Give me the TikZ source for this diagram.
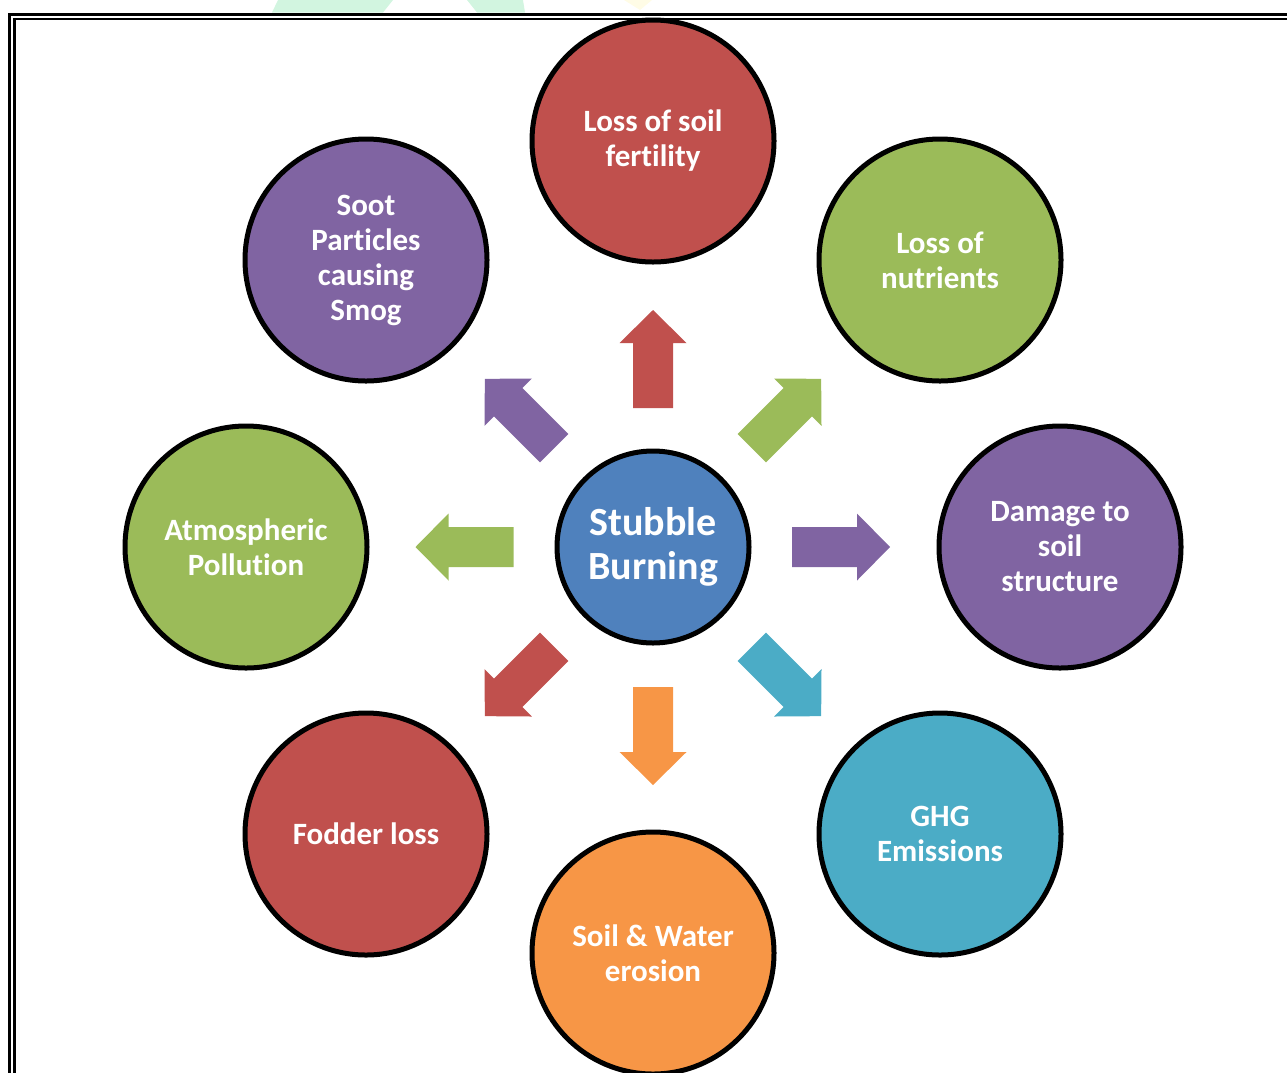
\documentclass[tikz,border=0pt]{standalone}
\usepackage{fontspec}
\setmainfont{Carlito}[Ligatures=NoCommon]
\definecolor{cred}{HTML}{C0504D}
\definecolor{cgreen}{HTML}{9BBB59}
\definecolor{cpurple}{HTML}{8064A2}
\definecolor{cteal}{HTML}{4BACC6}
\definecolor{corange}{HTML}{F79646}
\definecolor{cblue}{HTML}{4F81BD}
\definecolor{wmgreen}{HTML}{D2F5E0}
\definecolor{wmyellow}{HTML}{FFFCE6}
\newcommand\blockarrow[4]{%
  \fill[#4, shift={(#1,#2)}, rotate=#3] (-49,-20) -- (16,-20) -- (16,-33.5) -- (49,0) -- (16,33.5) -- (16,20) -- (-49,20) -- cycle;}
\tikzset{
  bubble/.style={circle, draw=black, line width=5pt, minimum size=242pt, inner sep=0pt,
    text=white, align=center, font=\bfseries\fontsize{31}{35}\selectfont},
  hub/.style={circle, draw=black, line width=5pt, minimum size=192pt, inner sep=0pt,
    text=white, align=center, font=\bfseries\fontsize{40}{44}\selectfont},
  frameline/.style={draw=black, line width=2.4pt}
}
\begin{document}
\begin{tikzpicture}[x=1pt,y=-1pt]
\useasboundingbox (0,0) rectangle (1287,1072);
% faint watermark fragments
\fill[wmgreen] (278,0) -- (393,0) -- (383,12.5) -- (272,12.5) -- cycle;
\fill[wmgreen] (467,0) -- (523,0) -- (525,12.5) -- (477,12.5) -- cycle;
\fill[wmyellow] (624,0) -- (652,0) -- (640,10) -- cycle;
% double frame
\draw[frameline] (1300,14.3) -- (9.5,14.3) -- (9.5,1090);
\draw[frameline] (1300,18.8) -- (14.5,18.8) -- (14.5,1090);
% hub
\node[hub, fill=cblue] (hub) at (653,547) {Stubble\\Burning};
% outer bubbles
\node[bubble, fill=cred] (fert) at (653,141) {Loss of soil\\fertility};
\node[bubble, fill=cgreen] (nutr) at (940,260) {Loss of\\nutrients};
\node[bubble, fill=cpurple] (struct) at (1060,547) {Damage to\\soil\\structure};
\node[bubble, fill=cteal] (ghg) at (940,834) {GHG\\Emissions};
\node[bubble, fill=corange] (eros) at (653,953) {Soil \& Water\\erosion};
\node[bubble, fill=cred] (fodder) at (366,834) {Fodder loss};
\node[bubble, fill=cgreen] (atmo) at (246,547) {Atmospheric\\Pollution};
\node[bubble, fill=cpurple] (soot) at (366,260) {Soot\\Particles\\causing\\Smog};
% block arrows
\blockarrow{653}{359}{90}{cred}
\blockarrow{786.5}{413.5}{45}{cgreen}
\blockarrow{841}{547}{0}{cpurple}
\blockarrow{786.5}{681.5}{-45}{cteal}
\blockarrow{653}{736}{-90}{corange}
\blockarrow{519.5}{681.5}{-135}{cred}
\blockarrow{464.5}{547}{180}{cgreen}
\blockarrow{519.5}{413.5}{135}{cpurple}
\end{tikzpicture}
\end{document}
